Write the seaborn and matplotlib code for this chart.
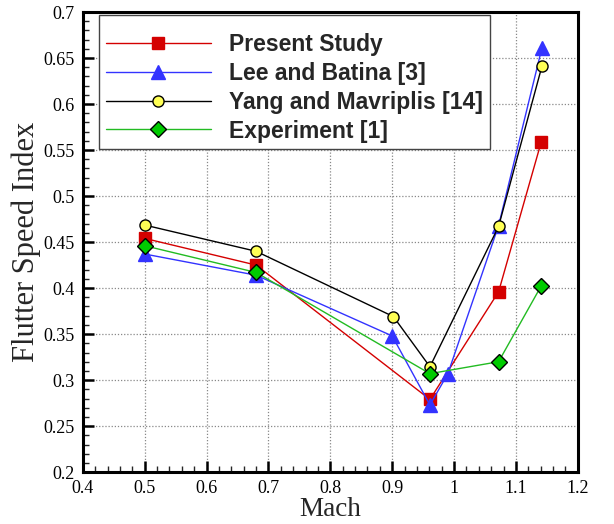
import matplotlib
matplotlib.use("Agg")
import matplotlib.pyplot as plt
import seaborn as sns
import pandas as pd
from matplotlib.ticker import MultipleLocator

# Data
present_mach = [0.50, 0.68, 0.961, 1.072, 1.141]
present_fsi = [0.454, 0.425, 0.279, 0.396, 0.559]

lee_mach = [0.50, 0.68, 0.90, 0.961, 0.990, 1.072, 1.142]
lee_fsi = [0.437, 0.414, 0.348, 0.273, 0.307, 0.468, 0.661]

yang_mach = [0.50, 0.68, 0.902, 0.961, 1.072, 1.142]
yang_fsi = [0.4685, 0.440, 0.369, 0.3145, 0.467, 0.641]

exp_mach = [0.50, 0.68, 0.961, 1.072, 1.141]
exp_fsi = [0.446, 0.417, 0.307, 0.320, 0.4025]

series = [
    ("Present Study", present_mach, present_fsi, "#d40000", "s", "#d40000", "#d40000", 9),
    ("Lee and Batina [3]", lee_mach, lee_fsi, "#3333ff", "^", "#3333ff", "#3333ff", 10),
    ("Yang and Mavriplis [14]", yang_mach, yang_fsi, "#000000", "o", "#ffff55", "#000000", 8),
    ("Experiment [1]", exp_mach, exp_fsi, "#22bb22", "D", "#00cc00", "#000000", 8.5),
]

sns.set_theme(style="white")
plt.rcParams['font.family'] = ['Liberation Serif', 'DejaVu Serif']

fig = plt.figure(figsize=(6.14, 5.24), dpi=100)
ax = fig.add_axes([0.135, 0.099, 0.806, 0.878])

for label, xs, ys, lc, mk, mfc, mec, ms in series:
    df = pd.DataFrame({"Mach": xs, "FSI": ys})
    sns.lineplot(data=df, x="Mach", y="FSI", ax=ax, sort=False, color=lc,
                 marker=mk, markersize=ms, markerfacecolor=mfc,
                 markeredgecolor=mec, markeredgewidth=1.0, linewidth=1.0,
                 label=label, estimator=None)

ax.set_xlim(0.4, 1.2)
ax.set_ylim(0.2, 0.7)
ax.xaxis.set_major_locator(MultipleLocator(0.1))
ax.xaxis.set_minor_locator(MultipleLocator(0.02))
ax.yaxis.set_major_locator(MultipleLocator(0.05))
ax.yaxis.set_minor_locator(MultipleLocator(0.01))

def fmt(v, pos):
    return ("%.2f" % v).rstrip("0").rstrip(".")
ax.xaxis.set_major_formatter(plt.FuncFormatter(fmt))
ax.yaxis.set_major_formatter(plt.FuncFormatter(fmt))

ax.grid(True, which="major", linestyle=(0, (1, 1.5)), color="#888888", linewidth=0.9)
ax.tick_params(axis="both", which="major", direction="in", length=8, width=1.8,
               labelsize=13, colors="black", top=False, right=False,
               bottom=True, left=True, pad=6)
ax.tick_params(axis="both", which="minor", direction="in", length=4, width=1.0,
               top=False, right=False, bottom=True, left=True)
for sp in ax.spines.values():
    sp.set_visible(True)
    sp.set_color("black")
    sp.set_linewidth(2.2)

ax.set_xlabel("Mach", fontsize=19.5, labelpad=0)
ax.set_ylabel("Flutter Speed Index", fontsize=22, labelpad=2)

leg = ax.legend(loc="upper left", bbox_to_anchor=(0.032, 0.994), borderaxespad=0,
                frameon=True, fancybox=False, edgecolor="#444444", framealpha=1,
                handlelength=4.6, handletextpad=0.8, borderpad=0.3,
                labelspacing=0.26, title=" ", title_fontsize=4.5,
                prop={"family": "Liberation Sans", "weight": "bold", "size": 16.5})
leg.get_frame().set_linewidth(1.0)

fig.savefig("out.png", dpi=100)
